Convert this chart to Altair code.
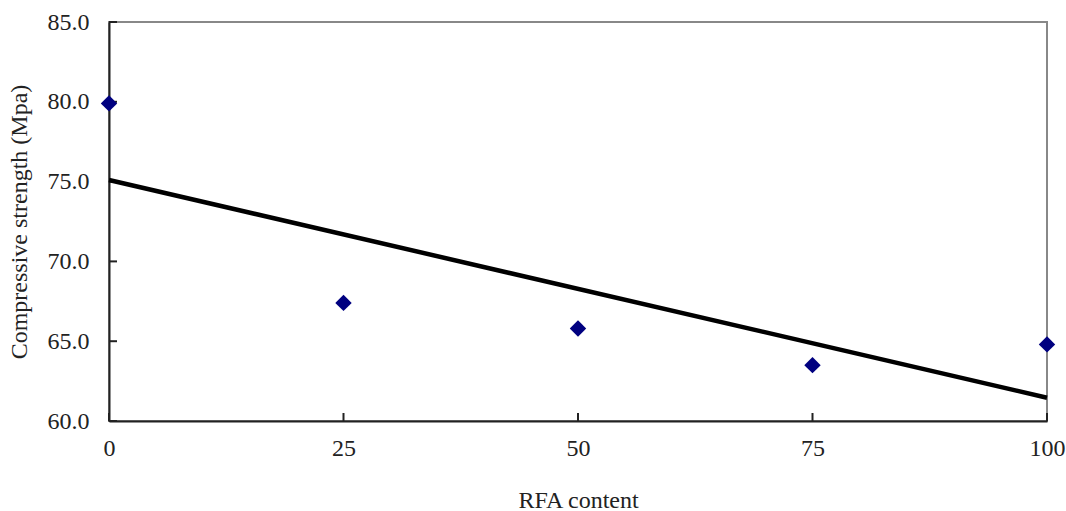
import altair as alt
import pandas as pd

rfa_content = [0, 25, 50, 75, 100]
strength = [79.9, 67.4, 65.8, 63.5, 64.8]
y_ticks = [60, 65, 70, 75, 80, 85]
x_ticks = [0, 25, 50, 75, 100]

df = pd.DataFrame({"RFA content": rfa_content, "strength": strength})
ytick_df = pd.DataFrame({"v": y_ticks})
xtick_df = pd.DataFrame({"v": x_ticks})

FONT = "Liberation Serif"
FS = 24

xscale = alt.Scale(domain=[0, 100], nice=False, zero=False)
yscale = alt.Scale(domain=[60, 85], nice=False, zero=False)

xaxis = alt.Axis(values=x_ticks, title="RFA content", format="d", grid=False,
                 domainColor="#222222", domainWidth=2, ticks=False, labelFlush=False,
                 labelPadding=15, titlePadding=28, labelFont=FONT, titleFont=FONT,
                 labelFontSize=FS, titleFontSize=FS, labelColor="#222222",
                 titleColor="#222222", titleFontWeight="normal")
yaxis = alt.Axis(values=y_ticks, title="Compressive strength (Mpa)", format=".1f",
                 grid=False, domainColor="#222222", domainWidth=2, ticks=False,
                 labelFlush=False,
                 labelPadding=20, titlePadding=16, labelFont=FONT, titleFont=FONT,
                 labelFontSize=FS, titleFontSize=FS, labelColor="#222222",
                 titleColor="#222222", titleFontWeight="normal")

points = alt.Chart(df).mark_point(shape="diamond", filled=True, size=270,
                                  color="#000080", opacity=1).encode(
    x=alt.X("RFA content:Q", scale=xscale, axis=xaxis),
    y=alt.Y("strength:Q", scale=yscale, axis=yaxis),
)

trend = alt.Chart(df).transform_regression(
    "RFA content", "strength", extent=[0, 100]
).mark_line(color="black", strokeWidth=4.5).encode(
    x=alt.X("RFA content:Q", scale=xscale),
    y=alt.Y("strength:Q", scale=yscale),
)

yt = alt.Chart(ytick_df).mark_rule(color="#222222", strokeWidth=2).encode(
    y=alt.Y("v:Q", scale=yscale),
    x=alt.value(0), x2=alt.value(8),
)
xt = alt.Chart(xtick_df).mark_rule(color="#222222", strokeWidth=2).encode(
    x=alt.X("v:Q", scale=xscale),
    y=alt.value(399), y2=alt.value(391),
)

chart = alt.layer(yt, xt, trend, points).properties(
    width=938, height=399,
    autosize=alt.AutoSizeParams(type="none"),
    padding={"left": 109, "top": 22, "right": 19, "bottom": 90},
    background="white",
).configure_view(stroke="#888888", strokeWidth=2)

chart.save("out.html", embed_options={"renderer": "svg", "actions": False})
